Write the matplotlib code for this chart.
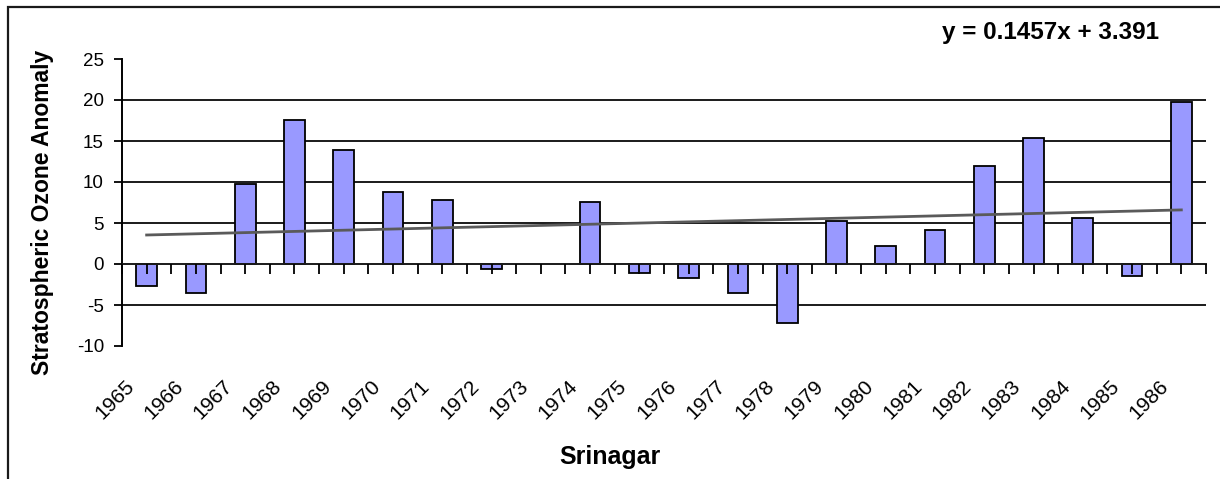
import numpy as np
import matplotlib
matplotlib.use("Agg")
import matplotlib.pyplot as plt
import matplotlib.transforms as mtransforms
from matplotlib.patches import Rectangle

years = [str(y) for y in range(1965, 1987)]
anomaly = [-2.7, -3.5, 9.8, 17.6, 13.9, 8.8, 7.8, -0.6, np.nan, 7.6, -1.1,
           -1.7, -3.5, -7.2, 5.2, 2.2, 4.1, 12.0, 15.4, 5.6, -1.5, 19.8]
trend_slope = 0.1457
trend_intercept = 3.391
y_ticks = [-10, -5, 0, 5, 10, 15, 20, 25]
grid_levels = [-5, 5, 10, 15, 20]

plt.rcParams['font.family'] = ['Liberation Sans', 'DejaVu Sans']

fig = plt.figure(figsize=(12.2, 4.79), dpi=100)
ax = fig.add_axes([0.1, 1 - 346 / 479, 0.9885 - 0.1, (346 - 59) / 479])

n = len(years)
x = np.arange(n)
vals = np.array(anomaly, dtype=float)
ax.bar(x, vals, width=0.42, color='#9999FF', edgecolor='black', linewidth=1.3, zorder=2)

# trendline from displayed equation (x = 1..n)
xt = np.arange(1, n + 1)
ax.plot(x, trend_slope * xt + trend_intercept, color='#5a5a5a', lw=2.0, zorder=4)

for g in grid_levels:
    ax.axhline(g, color='#1a1a1a', lw=1.4, zorder=1)

ax.set_axisbelow(False)
ax.set_xlim(-0.5, n - 0.5)
ax.set_ylim(-10, 25)
ax.set_yticks(y_ticks)
ax.set_yticklabels([str(v) for v in y_ticks], fontsize=13.5)
ax.tick_params(axis='y', direction='out', length=6, width=1.3, pad=7, colors='black')

for s in ['top', 'right']:
    ax.spines[s].set_visible(False)
ax.spines['left'].set_linewidth(1.4)
ax.spines['bottom'].set_position(('data', 0))
ax.spines['bottom'].set_linewidth(1.4)
ax.spines['bottom'].set_color('#1a1a1a')

ax.set_xticks(x)
ax.set_xticks(np.arange(n + 1) - 0.5, minor=True)
ax.tick_params(axis='x', which='both', direction='out', length=7, width=1.3,
               labelbottom=False)

sec = ax.secondary_xaxis('bottom')
sec.set_xticks(x)
sec.set_xticklabels(years, rotation=45, ha='right', va='top', fontsize=15)
sec.tick_params(axis='x', length=0, pad=22)
sec.spines['bottom'].set_visible(False)
offset = mtransforms.ScaledTranslation(-9 / 100, 0, fig.dpi_scale_trans)
for lab in sec.get_xticklabels():
    lab.set_transform(lab.get_transform() + offset)

fig.text(0.5, 1 - 457 / 479, 'Srinagar', ha='center', va='center',
         fontsize=18, fontweight='bold')
fig.text(43 / 1220, 1 - 212 / 479, 'Stratospheric Ozone Anomaly', rotation=90,
         ha='center', va='center', fontsize=16.5, fontweight='bold')
fig.text(1051 / 1220, 1 - 33 / 479, 'y = 0.1457x + 3.391', ha='center', va='center',
         fontsize=17.5, fontweight='bold')

fig.patches.append(Rectangle((8 / 1220, -0.05), 1.1, 1 - 7 / 479 + 0.05,
                             transform=fig.transFigure, fill=False,
                             edgecolor='#1a1a1a', lw=1.6))

fig.savefig('out.png', dpi=100)
